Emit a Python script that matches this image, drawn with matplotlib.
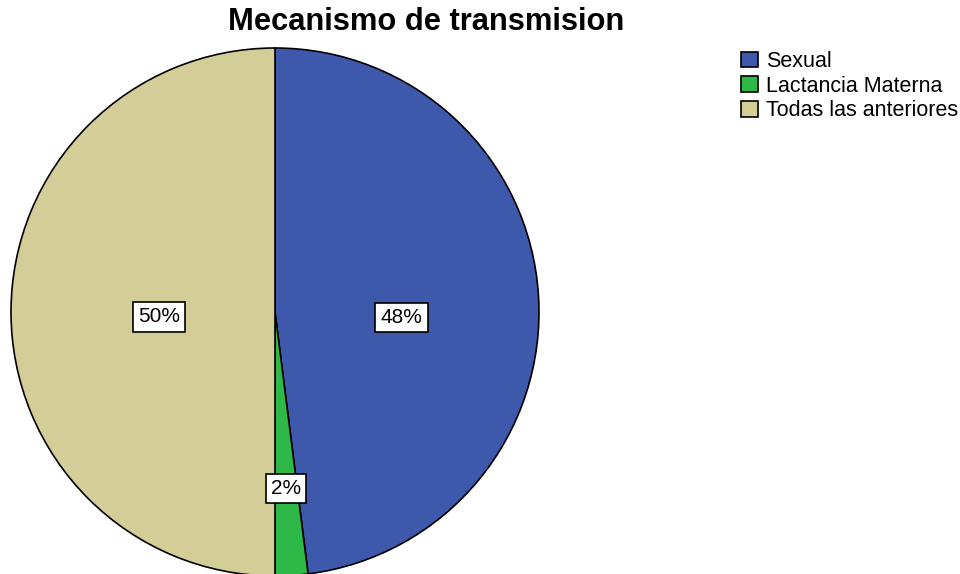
import numpy as np
import matplotlib
matplotlib.use('Agg')
import matplotlib.pyplot as plt
from matplotlib.patches import Patch

plt.rcParams['font.family'] = ['Liberation Sans', 'DejaVu Sans']

categories = ['Sexual', 'Lactancia Materna', 'Todas las anteriores']
percentages = [48, 2, 50]
colors = ['#3e58ac', '#2eb848', '#d3cd97']

# label placement (fraction of radius, angle tweak in degrees)
label_radius = [0.48, 0.67, 0.44]
label_shift = [-6.0, 0.0, 2.4]

fig = plt.figure(figsize=(9.6, 5.74), dpi=100)
W, H = 960, 574

# pie axes: centre (275, 312) px, radius 264 px
cx, cy, r = 275, 312, 264
ax = fig.add_axes([(cx - r) / W, (H - cy - r) / H, 2 * r / W, 2 * r / H])
wedges, _ = ax.pie(percentages, colors=colors, startangle=90, counterclock=False,
                   radius=1, wedgeprops=dict(edgecolor='black', linewidth=1.2))
ax.set_xlim(-1, 1)
ax.set_ylim(-1, 1)
ax.set_aspect('auto')
ax.axis('off')

for w, pct, rad, sh in zip(wedges, percentages, label_radius, label_shift):
    ang = np.deg2rad((w.theta1 + w.theta2) / 2 + sh)
    ax.text(rad * np.cos(ang), rad * np.sin(ang), f'{pct}%', ha='center', va='center',
            fontsize=15,
            bbox=dict(boxstyle='square,pad=0.25', facecolor='white', edgecolor='black', linewidth=1.2))

fig.text(426 / W, 1 - 22 / H, 'Mecanismo de transmision', ha='center', va='center',
         fontsize=22.2, fontweight='bold')

handles = [Patch(facecolor=c, edgecolor='black', linewidth=1.2) for c in colors]
fig.legend(handles, categories, loc='upper left', bbox_to_anchor=(741 / W, 1 - 51 / H),
           frameon=False, fontsize=15.5, handlelength=0.8, handleheight=0.75,
           handletextpad=0.35, labelspacing=0.17, borderpad=0, borderaxespad=0)

plt.savefig('out.png', dpi=100)
